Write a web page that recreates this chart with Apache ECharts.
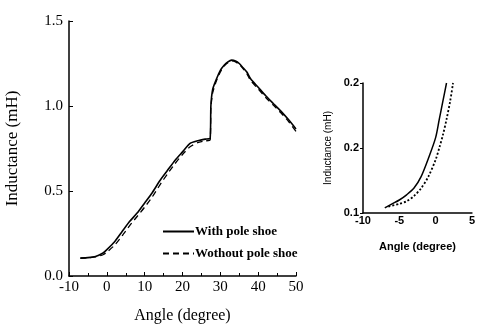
<!DOCTYPE html>
<html>
<head>
<meta charset="utf-8">
<script src="https://cdn.jsdelivr.net/npm/echarts@6/dist/echarts.min.js"></script>
<style>
  html, body {margin: 0; padding: 0; background: #fff;}
  #chart {width: 478px; height: 329px;}
</style>
</head>
<body>
<div id="chart"></div>
<script>
// main plot
const mainAngles = [-7, -5, -3, -1, 0, 2, 4, 6, 8, 10, 12, 14, 16, 18, 20, 22, 24, 26, 27.3, 27.5, 28, 29, 30, 31, 32, 33, 34, 35, 36, 37, 38, 40, 42, 44, 46, 48, 50]
const withShoe = [0.105, 0.108, 0.115, 0.135, 0.155, 0.2, 0.26, 0.32, 0.37, 0.43, 0.49, 0.56, 0.62, 0.68, 0.73, 0.78, 0.795, 0.805, 0.81, 1.0, 1.1, 1.16, 1.21, 1.24, 1.26, 1.27, 1.265, 1.25, 1.225, 1.2, 1.16, 1.11, 1.06, 1.015, 0.97, 0.92, 0.865]
const withoutShoe = [0.105, 0.107, 0.112, 0.125, 0.14, 0.18, 0.235, 0.295, 0.35, 0.405, 0.465, 0.535, 0.6, 0.66, 0.715, 0.76, 0.785, 0.795, 0.8, 0.99, 1.08, 1.15, 1.2, 1.235, 1.255, 1.265, 1.26, 1.245, 1.22, 1.19, 1.15, 1.1, 1.05, 1.005, 0.96, 0.91, 0.85]

// inset (zoom near 0 degree)
const insetAnglesWith = [-7, -6, -5, -4, -3, -2, -1, 0, 0.5, 1, 1.5]
const insetWith = [0.104, 0.107, 0.11, 0.114, 0.119, 0.128, 0.142, 0.158, 0.172, 0.186, 0.2]
const insetAnglesWithout = [-6.5, -5, -4, -3, -2, -1, 0, 0.5, 1, 1.5, 2, 2.4]
const insetWithout = [0.105, 0.107, 0.109, 0.113, 0.119, 0.128, 0.141, 0.15, 0.16, 0.172, 0.186, 0.2]
const insetYLabels = ['0.1', '0.2', '0.2']

const seriesNames = ['With pole shoe', 'Wothout pole shoe']

const pairs = (xs, ys) => xs.map((x, i) => [x, ys[i]])

const serif = 'Liberation Serif'
const sans = 'Liberation Sans'
const axisLine = {show: true, onZero: false, lineStyle: {color: '#000', width: 1.5}}

const chart = echarts.init(document.getElementById('chart'))
chart.setOption({
  backgroundColor: '#fff',
  animation: false,
  color: ['#000', '#000'],
  grid: [
    {left: 69, top: 21, width: 227, height: 258},
    {left: 363, top: 83, width: 112, height: 130}
  ],
  legend: {
    left: 157, top: 220,
    orient: 'vertical',
    itemWidth: 31, itemHeight: 10, itemGap: 9,
    data: seriesNames,
    itemStyle: {opacity: 0},
    textStyle: {fontFamily: serif, fontSize: 13, fontWeight: 'bold', color: '#000', padding: [0, 0, 0, -4]}
  },
  xAxis: [
    {
      gridIndex: 0, type: 'value', min: -10, max: 50, interval: 10,
      name: 'Angle (degree)', nameLocation: 'middle', nameGap: 32,
      nameTextStyle: {fontFamily: serif, fontSize: 16, color: '#000'},
      axisLine, splitLine: {show: false},
      axisTick: {inside: true, length: 4, lineStyle: {color: '#000'}},
      minorTick: {show: true, splitNumber: 2, length: 3, lineStyle: {color: '#000'}},
      axisLabel: {fontFamily: serif, fontSize: 15, color: '#000', margin: 4}
    },
    {
      gridIndex: 1, type: 'value', min: -10, max: 5, interval: 5,
      name: 'Angle (degree)', nameLocation: 'middle', nameGap: 28,
      nameTextStyle: {fontFamily: sans, fontSize: 11, fontWeight: 'bold', color: '#000'},
      axisLine, splitLine: {show: false},
      axisTick: {show: false},
      axisLabel: {fontFamily: sans, fontSize: 11, fontWeight: 'bold', color: '#000', margin: 2}
    }
  ],
  yAxis: [
    {
      gridIndex: 0, type: 'value', min: 0, max: 1.5, interval: 0.5,
      name: 'Inductance (mH)', nameLocation: 'middle', nameGap: 48,
      nameTextStyle: {fontFamily: serif, fontSize: 17, color: '#000'},
      axisLine, splitLine: {show: false},
      axisTick: {inside: true, length: 4, lineStyle: {color: '#000'}},
      axisLabel: {fontFamily: serif, fontSize: 15, color: '#000', margin: 6, formatter: v => v.toFixed(1)}
    },
    {
      gridIndex: 1, type: 'value', min: 0.1, max: 0.2, interval: 0.05,
      name: 'Inductance (mH)', nameLocation: 'middle', nameGap: 30,
      nameTextStyle: {fontFamily: sans, fontSize: 10, color: '#000'},
      axisLine, splitLine: {show: false},
      axisTick: {length: 3, lineStyle: {color: '#000'}},
      axisLabel: {
        fontFamily: sans, fontSize: 11, fontWeight: 'bold', color: '#000', margin: 4,
        formatter: (v) => insetYLabels[Math.round((v - 0.1) / 0.05)]
      }
    }
  ],
  series: [
    {
      name: seriesNames[0], type: 'line', xAxisIndex: 0, yAxisIndex: 0,
      data: pairs(mainAngles, withShoe), symbol: 'none', smooth: 0.2,
      lineStyle: {color: '#000', width: 1.6}
    },
    {
      name: seriesNames[1], type: 'line', xAxisIndex: 0, yAxisIndex: 0,
      data: pairs(mainAngles, withoutShoe), symbol: 'none', smooth: 0.2,
      lineStyle: {color: '#000', width: 1.3, type: [6, 4]}
    },
    {
      type: 'line', xAxisIndex: 1, yAxisIndex: 1,
      data: pairs(insetAnglesWith, insetWith), symbol: 'none', smooth: 0.3,
      lineStyle: {color: '#000', width: 1.5}
    },
    {
      type: 'line', xAxisIndex: 1, yAxisIndex: 1,
      data: pairs(insetAnglesWithout, insetWithout), symbol: 'none', smooth: 0.3,
      lineStyle: {color: '#000', width: 1.8, type: [2, 2]}
    }
  ]
})
</script>
</body>
</html>
